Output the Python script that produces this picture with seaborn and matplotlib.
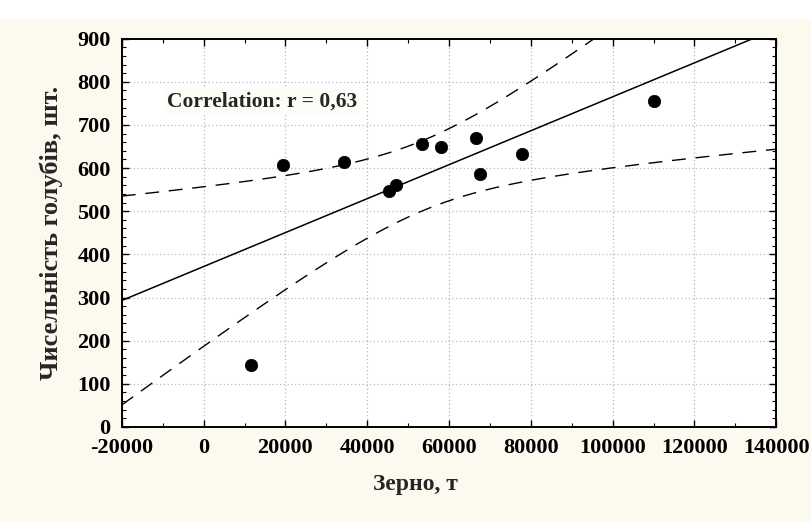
import numpy as np
import pandas as pd
import matplotlib
matplotlib.use("Agg")
import matplotlib.pyplot as plt
import seaborn as sns
from matplotlib.ticker import MultipleLocator, FixedLocator
from matplotlib.patches import Rectangle

# ---- data ----
grain_t = [11500, 19300, 34300, 45300, 47000, 53300, 58000, 66700, 67500, 77900, 110200]
pigeons = [143, 606, 614, 547, 560, 655, 648, 669, 586, 632, 755]
x_ticks = [-20000, 0, 20000, 40000, 60000, 80000, 100000, 120000, 140000]
y_ticks = [0, 100, 200, 300, 400, 500, 600, 700, 800, 900]
corr_label = "Correlation: r = 0,63"
x_label = "Зерно, т"
y_label = "Чисельність голубів, шт."

df = pd.DataFrame({"x": grain_t, "y": pigeons})

sns.set_theme(style="white")
plt.rcParams["font.family"] = ["Liberation Serif", "DejaVu Serif"]
plt.rcParams["font.weight"] = "bold"

fig = plt.figure(figsize=(8.12, 5.22), dpi=100, facecolor="#fcf9ef")
ax = fig.add_axes([0.150, 0.182, 0.806, 0.744])
ax.set_facecolor("white")

# white strip on top (document crop)
fig.patches.append(Rectangle((0, 1 - 19 / 522), 1, 19 / 522, transform=fig.transFigure,
                             facecolor="white", edgecolor="none", zorder=-1))

# regression line and 95% confidence band of the fit
x = np.asarray(grain_t, float)
y = np.asarray(pigeons, float)
n = len(x)
slope, intercept = np.polyfit(x, y, 1)
xs = np.linspace(x_ticks[0], x_ticks[-1], 400)
fit = intercept + slope * xs
resid = y - (intercept + slope * x)
s = np.sqrt(np.sum(resid ** 2) / (n - 2))
sxx = np.sum((x - x.mean()) ** 2)
t95 = 2.262
half = t95 * s * np.sqrt(1.0 / n + (xs - x.mean()) ** 2 / sxx)

line_df = pd.DataFrame({"x": xs, "fit": fit, "lo": fit - half, "hi": fit + half})
sns.lineplot(data=line_df, x="x", y="fit", ax=ax, color="black", lw=1.1, zorder=3)
for col in ["lo", "hi"]:
    sns.lineplot(data=line_df, x="x", y=col, ax=ax, color="black", lw=1.0,
                 dashes=False, zorder=3).lines[-1].set_dashes([10, 7])

sns.scatterplot(data=df, x="x", y="y", ax=ax, color="black", s=80,
                edgecolor="black", linewidth=0.5, zorder=4)

ax.set_xlim(x_ticks[0], x_ticks[-1])
ax.set_ylim(y_ticks[0], y_ticks[-1])
ax.xaxis.set_major_locator(FixedLocator(x_ticks))
ax.yaxis.set_major_locator(FixedLocator(y_ticks))
ax.xaxis.set_minor_locator(MultipleLocator(10000))
ax.yaxis.set_minor_locator(MultipleLocator(20))
ax.set_xticklabels([str(v) for v in x_ticks])
ax.set_yticklabels([str(v) for v in y_ticks])

ax.grid(True, which="major", color="#b8b8b8", linestyle=(0, (1, 2)), lw=0.9)
ax.tick_params(which="both", direction="in", top=True, right=True, bottom=True, left=True,
               colors="black", labelsize=16)
ax.tick_params(axis="x", which="major", pad=8)
ax.tick_params(axis="y", which="major", pad=8)
ax.tick_params(which="major", length=5, width=1)
ax.tick_params(which="minor", length=3, width=0.8)
for lab in ax.get_xticklabels() + ax.get_yticklabels():
    lab.set_fontweight("bold")
for sp in ax.spines.values():
    sp.set_color("black")
    sp.set_linewidth(1.4)
    sp.set_visible(True)

ax.set_xlabel(x_label, fontsize=17, fontweight="bold", labelpad=11)
ax.xaxis.set_label_coords(0.448, -0.12)
ax.set_ylabel(y_label, fontsize=19, fontweight="bold", labelpad=10)

ax.text(-9000, 753, corr_label, fontsize=15.5, fontweight="bold", ha="left", va="center",
        zorder=5, bbox=dict(facecolor="#fdfcf6", edgecolor="none", pad=2))

fig.savefig("out.png", dpi=100, facecolor=fig.get_facecolor())
